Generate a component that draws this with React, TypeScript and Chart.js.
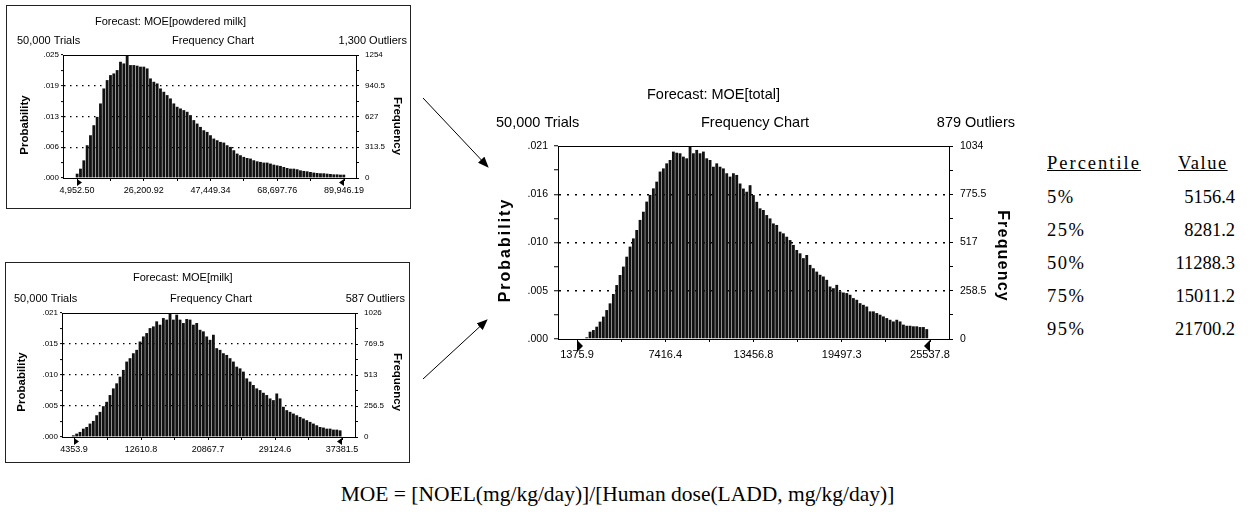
import React, { useEffect, useRef } from 'react';
import { Chart, registerables } from 'chart.js';

Chart.register(...registerables);

const SANS = "'Liberation Sans', Arial, Helvetica, sans-serif";
const SERIF = "'Liberation Serif', 'Times New Roman', Times, serif";

// ---------- MOE[total] ----------
const totalFrequency = [9, 39, 48, 66, 93, 120, 155, 191, 241, 289, 343, 388, 441, 495, 539, 584, 638, 682, 736, 772, 807, 843, 897, 914, 941, 959, 1004, 998, 995, 977, 968, 1034, 995, 1013, 995, 1004, 968, 959, 923, 941, 923, 914, 888, 870, 888, 879, 833, 806, 789, 824, 771, 735, 700, 691, 664, 646, 619, 611, 575, 566, 548, 530, 504, 477, 459, 433, 450, 397, 379, 361, 344, 335, 317, 281, 272, 290, 255, 249, 246, 237, 219, 210, 192, 183, 174, 148, 148, 139, 130, 121, 112, 103, 94, 103, 94, 77, 71, 71, 68, 68, 64, 64, 53];
const totalBinStart = 2040;
const totalBinWidth = 228.2;
const totalTickValues = [1375.9, 7416.4, 13456.8, 19497.3, 25537.8];
const totalTickLabels = ['1375.9', '7416.4', '13456.8', '19497.3', '25537.8'];
const totalProbabilityLabels = ['.000', '.005', '.010', '.016', '.021'];
const totalFrequencyLabels = ['0', '258.5', '517', '775.5', '1034'];
const totalFrequencyMax = 1034;

// ---------- MOE[powdered milk] ----------
const powderedFrequency = [44, 95, 180, 334, 436, 538, 623, 760, 913, 998, 1049, 1066, 1100, 1185, 1168, 1254, 1151, 1151, 1145, 1135, 1135, 1117, 1015, 981, 964, 913, 879, 845, 811, 760, 726, 709, 692, 675, 641, 590, 555, 521, 487, 470, 436, 402, 385, 368, 361, 334, 317, 283, 249, 232, 215, 204, 198, 181, 170, 164, 157, 157, 147, 136, 129, 123, 112, 102, 95, 95, 89, 78, 72, 68, 61, 55, 51, 48, 48, 44, 41, 37, 37, 34, 34];
const powderedBinStart = 5000;
const powderedBinWidth = 1061;
const powderedTickValues = [4952.5, 26200.92, 47449.34, 68697.76, 89946.19];
const powderedTickLabels = ['4,952.50', '26,200.92', '47,449.34', '68,697.76', '89,946.19'];
const powderedProbabilityLabels = ['.000', '.006', '.013', '.019', '.025'];
const powderedFrequencyLabels = ['0', '313.5', '627', '940.5', '1254'];
const powderedFrequencyMax = 1254;

// ---------- MOE[milk] ----------
const milkFrequency = [14, 28, 42, 69, 83, 111, 133, 180, 208, 255, 291, 347, 402, 444, 499, 555, 624, 652, 693, 721, 790, 832, 860, 901, 915, 957, 929, 984, 971, 1026, 971, 1012, 971, 943, 976, 971, 929, 943, 887, 874, 832, 804, 846, 735, 721, 693, 679, 652, 624, 582, 568, 541, 485, 458, 430, 402, 388, 366, 347, 319, 305, 360, 319, 250, 222, 208, 194, 180, 166, 153, 139, 125, 111, 97, 83, 78, 69, 69, 61, 61, 55];
const milkBinStart = 4270;
const milkBinWidth = 411;
const milkTickValues = [4353.9, 12610.8, 20867.7, 29124.6, 37381.5];
const milkTickLabels = ['4353.9', '12610.8', '20867.7', '29124.6', '37381.5'];
const milkProbabilityLabels = ['.000', '.005', '.010', '.015', '.021'];
const milkFrequencyLabels = ['0', '256.5', '513', '769.5', '1026'];
const milkFrequencyMax = 1026;

// ---------- percentile table & formula ----------
const percentileLabels = ['5%', '25%', '50%', '75%', '95%'];
const percentileValues = ['5156.4', '8281.2', '11288.3', '15011.2', '21700.2'];
const formulaText = 'MOE = [NOEL(mg/kg/day)]/[Human dose(LADD, mg/kg/day)]';

type TextItem = { text: string; x: number; y: number; align: CanvasTextAlign; font: string; rot?: number; ls?: number };

function drawText(ctx: CanvasRenderingContext2D, t: TextItem) {
  ctx.save();
  ctx.font = t.font;
  ctx.fillStyle = '#000';
  ctx.textBaseline = 'middle';
  ctx.textAlign = t.align;
  (ctx as any).letterSpacing = (t.ls || 0) + 'px';
  ctx.translate(t.x, t.y);
  if (t.rot) ctx.rotate((t.rot * Math.PI) / 180);
  ctx.fillText(t.text, 0, 0);
  ctx.restore();
}

function Histogram({ spec }: { spec: any }) {
  const ref = useRef<HTMLCanvasElement>(null);
  useEffect(() => {
    const s = spec;
    const k = (s.tickValues[4] - s.tickValues[0]) / (s.p4 - s.p0);
    const xMin = s.tickValues[0] - (s.p0 - s.plot.l) * k;
    const xMax = s.tickValues[4] + (s.plot.r - s.p4) * k;
    const xTicks: number[] = [];
    s.tickValues.forEach((v: number, i: number) => {
      xTicks.push(v);
      if (i < 4) xTicks.push((v + s.tickValues[i + 1]) / 2);
    });
    const yTicks = [0, 1, 2, 3, 4, 5, 6, 7, 8].map((i) => (s.fmax * i) / 8);
    const points = s.freq.map((y: number, i: number) => ({ x: s.binStart + i * s.binWidth, y }));

    const decor = {
      id: 'decor',
      afterDraw(chart: any) {
        const ctx = chart.ctx as CanvasRenderingContext2D;
        const a = chart.chartArea;
        const xs = chart.scales.x;
        ctx.save();
        ctx.strokeStyle = '#000';
        ctx.fillStyle = '#000';
        ctx.lineWidth = 1;
        ctx.beginPath();
        ctx.moveTo(a.left, Math.round(a.top) + 0.5);
        ctx.lineTo(a.right, Math.round(a.top) + 0.5);
        ctx.stroke();
        if (s.boxed) {
          ctx.strokeStyle = '#222';
          ctx.strokeRect(0.5, 0.5, s.width - 1, s.height - 1);
        }
        // end-of-range markers
        const x0 = xs.getPixelForValue(s.tickValues[0]);
        const x4 = xs.getPixelForValue(s.tickValues[4]);
        const b = a.bottom;
        const tw = s.tri.w, th = s.tri.h, td = s.tri.dy;
        ctx.beginPath();
        ctx.moveTo(x0, b + td);
        ctx.lineTo(x0, b + td + th);
        ctx.lineTo(x0 + tw, b + td + th / 2);
        ctx.closePath();
        ctx.fill();
        ctx.beginPath();
        ctx.moveTo(x4, b + td);
        ctx.lineTo(x4, b + td + th);
        ctx.lineTo(x4 - tw, b + td + th / 2);
        ctx.closePath();
        ctx.fill();
        ctx.restore();
        s.texts.forEach((t: TextItem) => drawText(ctx, t));
      },
    };

    const chart = new Chart(ref.current as HTMLCanvasElement, {
      type: 'bar',
      data: {
        datasets: [
          {
            data: points,
            backgroundColor: '#111',
            borderWidth: 0,
            barPercentage: 1,
            categoryPercentage: s.barPct,
            xAxisID: 'x',
            yAxisID: 'y',
          } as any,
        ],
      },
      options: {
        responsive: false,
        maintainAspectRatio: false,
        animation: false,
        devicePixelRatio: 1,
        events: [],
        layout: { padding: { top: s.plot.t, left: 0, right: 0, bottom: 0 } },
        plugins: { legend: { display: false }, tooltip: { enabled: false }, title: { display: false } },
        scales: {
          x: {
            type: 'linear',
            position: 'bottom',
            min: xMin,
            max: xMax,
            offset: false,
            bounds: 'data',
            afterBuildTicks: (sc: any) => {
              sc.ticks = xTicks.map((v) => ({ value: v }));
            },
            afterFit: (sc: any) => {
              sc.height = s.height - s.plot.b;
            },
            grid: { display: true, drawOnChartArea: false, drawTicks: true, tickLength: s.xTick, tickColor: '#000', tickWidth: 1, offset: false },
            border: { display: true, color: '#000', width: 1 },
            ticks: {
              autoSkip: false,
              maxRotation: 0,
              minRotation: 0,
              padding: s.xPad,
              color: '#000',
              font: { family: SANS, size: s.xFont },
              callback: (_v: any, i: number) => (i % 2 === 0 ? s.tickLabels[i / 2] : ''),
            },
          },
          y: {
            type: 'linear',
            position: 'left',
            min: 0,
            max: s.fmax,
            bounds: 'data',
            afterBuildTicks: (sc: any) => {
              sc.ticks = yTicks.map((v) => ({ value: v }));
            },
            afterFit: (sc: any) => {
              sc.width = s.plot.l;
            },
            grid: {
              drawOnChartArea: true,
              drawTicks: true,
              tickLength: s.yLeftTick,
              tickColor: '#000',
              tickWidth: 1,
              lineWidth: s.gridWidth,
              color: (c: any) => (c.index % 2 === 0 && c.index > 0 && c.index < 8 ? '#000' : 'rgba(0,0,0,0)'),
            },
            border: { display: true, color: '#000', width: 1, dash: s.gridDash },
            ticks: {
              autoSkip: false,
              padding: s.yLeftPad,
              color: '#000',
              font: { family: SANS, size: s.yFont },
              callback: (_v: any, i: number) => (i % 2 === 0 ? s.probLabels[i / 2] : ''),
            },
          },
          y1: {
            type: 'linear',
            position: 'right',
            min: 0,
            max: s.fmax,
            bounds: 'data',
            afterBuildTicks: (sc: any) => {
              sc.ticks = yTicks.map((v) => ({ value: v }));
            },
            afterFit: (sc: any) => {
              sc.width = s.width - s.plot.r;
            },
            grid: { drawOnChartArea: false, drawTicks: true, tickLength: s.yRightTick, tickColor: '#000', tickWidth: 1 },
            border: { display: true, color: '#000', width: 1 },
            ticks: {
              autoSkip: false,
              padding: s.yRightPad,
              color: '#000',
              font: { family: SANS, size: s.yFont },
              callback: (_v: any, i: number) => (i % 2 === 0 ? s.freqLabels[i / 2] : ''),
            },
          },
        },
      } as any,
      plugins: [decor as any],
    });
    return () => chart.destroy();
  }, [spec]);
  return (
    <canvas
      ref={ref}
      width={spec.width}
      height={spec.height}
      style={{ position: 'absolute', left: spec.left, top: spec.top, width: spec.width, height: spec.height }}
    />
  );
}

const smallHead = `11px ${SANS}`;
const smallAxis = `bold 11.5px ${SANS}`;
const bigHead = `14.5px ${SANS}`;
const bigAxis = `bold 16px ${SANS}`;

const powderedSpec = {
  left: 6, top: 5, width: 405, height: 204,
  plot: { l: 57, t: 50, r: 350, b: 173 },
  p0: 71, p4: 338,
  freq: powderedFrequency, binStart: powderedBinStart, binWidth: powderedBinWidth, fmax: powderedFrequencyMax,
  tickValues: powderedTickValues, tickLabels: powderedTickLabels,
  probLabels: powderedProbabilityLabels, freqLabels: powderedFrequencyLabels,
  boxed: true, barPct: 0.85,
  xFont: 9, xTick: 3, xPad: 4,
  yFont: 8, yLeftTick: 2, yLeftPad: 2, yRightTick: 3, yRightPad: 6,
  gridDash: [1.5, 4.5], gridWidth: 1.2,
  tri: { w: 5, h: 7, dy: 1 },
  texts: [
    { text: 'Forecast: MOE[powdered milk]', x: 89, y: 17, align: 'left', font: smallHead },
    { text: '50,000 Trials', x: 11, y: 36, align: 'left', font: smallHead },
    { text: 'Frequency Chart', x: 207, y: 36, align: 'center', font: smallHead },
    { text: '1,300 Outliers', x: 401, y: 36, align: 'right', font: smallHead },
    { text: 'Probability', x: 19, y: 120, align: 'center', font: smallAxis, rot: -90 },
    { text: 'Frequency', x: 391, y: 121, align: 'center', font: smallAxis, rot: 90 },
  ],
};

const milkSpec = {
  left: 5, top: 262, width: 405, height: 201,
  plot: { l: 57, t: 51, r: 350, b: 175 },
  p0: 69, p4: 337,
  freq: milkFrequency, binStart: milkBinStart, binWidth: milkBinWidth, fmax: milkFrequencyMax,
  tickValues: milkTickValues, tickLabels: milkTickLabels,
  probLabels: milkProbabilityLabels, freqLabels: milkFrequencyLabels,
  boxed: true, barPct: 0.85,
  xFont: 9, xTick: 3, xPad: 4,
  yFont: 8, yLeftTick: 2, yLeftPad: 2, yRightTick: 3, yRightPad: 6,
  gridDash: [1.5, 4.5], gridWidth: 1.2,
  tri: { w: 5, h: 7, dy: 1 },
  texts: [
    { text: 'Forecast: MOE[milk]', x: 128, y: 16, align: 'left', font: smallHead },
    { text: '50,000 Trials', x: 9, y: 37, align: 'left', font: smallHead },
    { text: 'Frequency Chart', x: 206, y: 37, align: 'center', font: smallHead },
    { text: '587 Outliers', x: 400, y: 37, align: 'right', font: smallHead },
    { text: 'Probability', x: 17, y: 120, align: 'center', font: smallAxis, rot: -90 },
    { text: 'Frequency', x: 392, y: 120, align: 'center', font: smallAxis, rot: 90 },
  ],
};

const totalSpec = {
  left: 480, top: 80, width: 560, height: 290,
  plot: { l: 78, t: 66, r: 469, b: 259 },
  p0: 97, p4: 450,
  freq: totalFrequency, binStart: totalBinStart, binWidth: totalBinWidth, fmax: totalFrequencyMax,
  tickValues: totalTickValues, tickLabels: totalTickLabels,
  probLabels: totalProbabilityLabels, freqLabels: totalFrequencyLabels,
  boxed: false, barPct: 0.85,
  xFont: 11, xTick: 3, xPad: 6,
  yFont: 10.5, yLeftTick: 4, yLeftPad: 6, yRightTick: 4, yRightPad: 7,
  gridDash: [2, 6], gridWidth: 1.5,
  tri: { w: 6, h: 12, dy: 1 },
  texts: [
    { text: 'Forecast: MOE[total]', x: 167, y: 15, align: 'left', font: bigHead },
    { text: '50,000 Trials', x: 16, y: 43, align: 'left', font: bigHead },
    { text: 'Frequency Chart', x: 275, y: 43, align: 'center', font: bigHead },
    { text: '879 Outliers', x: 535, y: 43, align: 'right', font: bigHead },
    { text: 'Probability', x: 26, y: 170, align: 'center', font: bigAxis, rot: -90, ls: 2 },
    { text: 'Frequency', x: 522, y: 176, align: 'center', font: bigAxis, rot: 90, ls: 1.2 },
  ],
};

const rowCenters = [197, 230, 263, 296, 329];

export default function App() {
  const cell: React.CSSProperties = { position: 'absolute', fontFamily: SERIF, fontSize: 18.5, lineHeight: '22px', color: '#000', whiteSpace: 'nowrap' };
  return (
    <div style={{ position: 'absolute', left: 0, top: 0, width: 1256, height: 512, background: '#fff', overflow: 'hidden' }}>
      <Histogram spec={powderedSpec} />
      <Histogram spec={milkSpec} />
      <Histogram spec={totalSpec} />

      <div style={{ ...cell, left: 1047, top: 163 - 11, textDecoration: 'underline', letterSpacing: 2 }}>Percentile</div>
      <div style={{ ...cell, left: 1178, top: 163 - 11, textDecoration: 'underline', letterSpacing: 1.5 }}>Value</div>
      {percentileLabels.map((p, i) => (
        <div key={p} style={{ ...cell, left: 1047, top: rowCenters[i] - 11, letterSpacing: 1.5 }}>{p}</div>
      ))}
      {percentileValues.map((v, i) => (
        <div key={v} style={{ ...cell, left: 1135, width: 100, textAlign: 'right', top: rowCenters[i] - 11 }}>{v}</div>
      ))}

      <div style={{ ...cell, left: 0, width: 1235, textAlign: 'center', top: 494 - 12, fontSize: 21.5, lineHeight: '24px' }}>{formulaText}</div>

      <svg width={1256} height={512} style={{ position: 'absolute', left: 0, top: 0, pointerEvents: 'none' }}>
        <defs>
          <marker id="ah" markerWidth="11" markerHeight="9" refX="10" refY="4.5" orient="auto" markerUnits="userSpaceOnUse">
            <path d="M0,0 L11,4.5 L0,9 z" fill="#000" />
          </marker>
        </defs>
        <line x1={423} y1={98} x2={488} y2={167} stroke="#000" strokeWidth={1} markerEnd="url(#ah)" />
        <line x1={423} y1={379} x2={487} y2={320} stroke="#000" strokeWidth={1} markerEnd="url(#ah)" />
      </svg>
    </div>
  );
}
